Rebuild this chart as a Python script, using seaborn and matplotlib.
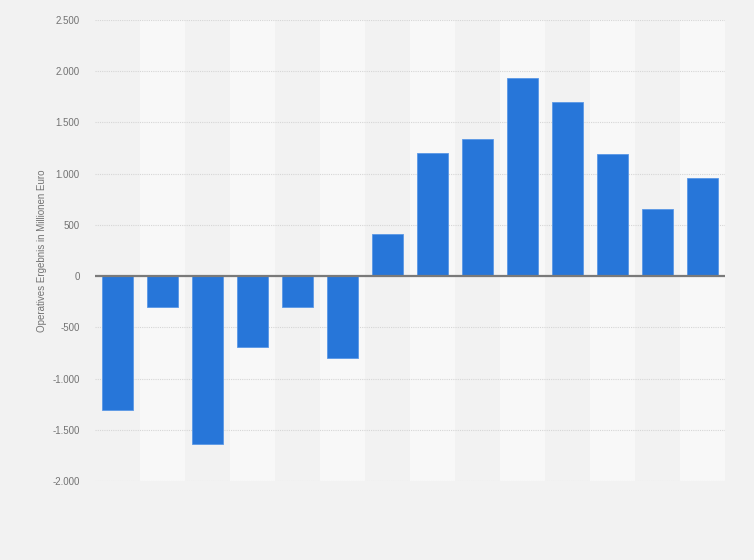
import matplotlib
matplotlib.use("Agg")
import matplotlib.pyplot as plt
import matplotlib.ticker as mticker
import seaborn as sns
import pandas as pd

categories = [f"P{i}" for i in range(1, 15)]
values = [-1307, -300, -1640, -692, -300, -799, 412, 1203, 1340, 1936, 1701, 1193, 656, 959]
y_ticks = [-2000, -1500, -1000, -500, 0, 500, 1000, 1500, 2000, 2500]
y_label = "Operatives Ergebnis in Millionen Euro"

df = pd.DataFrame({"cat": categories, "val": values})

sns.set_theme(style="white")
plt.rcParams['font.family'] = ['Liberation Sans', 'DejaVu Sans']

fig = plt.figure(figsize=(7.54, 5.60), dpi=100, facecolor="#f2f2f2")
ax = fig.add_axes([95/754, 1-481/560, (725-95)/754, (481-20)/560])
ax.set_facecolor("#f2f2f2")

for i in range(len(categories)):
    if i % 2 == 1:
        ax.axvspan(i-0.5, i+0.5, color="#f8f8f8", zorder=0, lw=0)

sns.barplot(data=df, x="cat", y="val", color="#2776d9", saturation=1, width=0.69,
            ax=ax, zorder=3, edgecolor="#5a98e6", linewidth=0.6)

ax.set_xlim(-0.5, len(categories)-0.5)
ax.set_ylim(-2000, 2500)
ax.set_yticks(y_ticks)
ax.yaxis.set_major_formatter(mticker.FuncFormatter(lambda v, p: f"{int(v):,}".replace(",", ".")))
ax.grid(axis="y", color="#d6d6d6", linestyle=(0, (1, 1)), linewidth=0.8, zorder=1)
ax.axhline(0, color="#7a7a7a", linewidth=1.6, zorder=4)
for s in ax.spines.values():
    s.set_visible(False)
ax.tick_params(axis="y", length=0, labelsize=7, labelcolor="#737373", pad=11)
ax.tick_params(axis="x", length=0)
ax.set_xticklabels([])
ax.set_xlabel("")
ax.set_ylabel(y_label, fontsize=7, color="#737373", labelpad=4)

fig.savefig("out.png", dpi=100, facecolor=fig.get_facecolor())
